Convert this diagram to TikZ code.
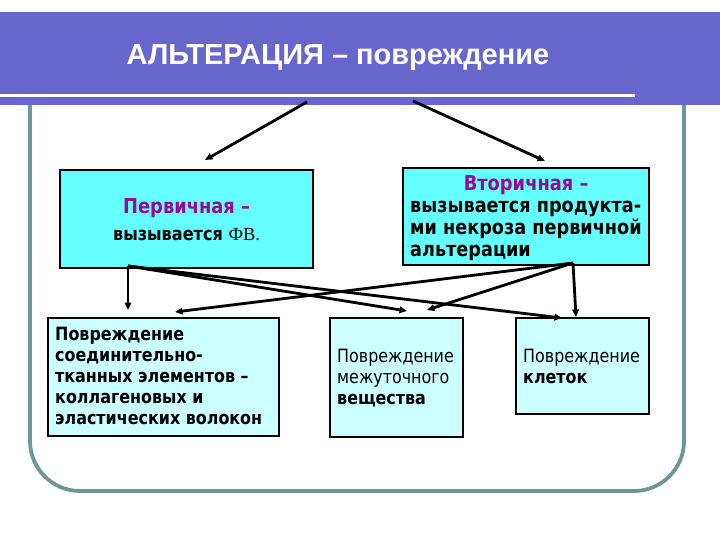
\documentclass[tikz,border=0pt]{standalone}
\usepackage{fontspec}
\setmainfont{DejaVu Sans}
\newfontfamily\boxfont[FakeStretch=0.87]{DejaVu Sans}
\newfontfamily\titlefont{Liberation Sans}
\newfontfamily\serfont{Liberation Serif}
\usetikzlibrary{arrows.meta,positioning}
\definecolor{bandblue}{RGB}{102,102,204}
\definecolor{framegray}{RGB}{110,150,150}
\definecolor{topcyan}{RGB}{102,255,255}
\definecolor{lowcyan}{RGB}{204,255,255}
\definecolor{headpurple}{RGB}{150,10,150}
\begin{document}
\begin{tikzpicture}[x=1pt, y=-1pt,
  altbox/.style = {draw=black, line width=2.2pt, fill=topcyan, anchor=north west, inner sep=0pt},
  dmgbox/.style = {altbox, fill=lowcyan},
  alttxt/.style = {inner sep=0pt, align=left, font=\boxfont\fontsize{18.3}{21}\selectfont},
  althead/.style = {alttxt, text=headpurple, font=\boxfont\fontsize{20.5}{22}\selectfont\bfseries},
  altarrow/.style = {-{Triangle[length=7.5pt, width=6.5pt]}, line width=2.8pt}
]
  \useasboundingbox (0,0) rectangle (720,540);
  % frame and header band
  \draw[framegray, line width=3.8pt, rounded corners=50pt]
    (30,100) -- (30,491) -- (684,491) -- (684,100);
  \fill[bandblue] (0,12) rectangle (720,105);
  \draw[white, line width=3pt] (0,96) -- (635,96);
  \node[text=white, font=\titlefont\bfseries\fontsize{29}{32}\selectfont] (title) at (338,58)
    {АЛЬТЕРАЦИЯ – повреждение};
  % upper boxes
  \node[altbox, minimum width=253pt, minimum height=98pt] (prim) at (59,169) {};
  \node[althead, below=29pt of prim.north] (primhead) {Первичная –};
  \node[alttxt, below=11pt of primhead, font=\boxfont\fontsize{18.5}{20}\selectfont\bfseries] (primtxt)
    {вызывается {\serfont\mdseries ФВ.}};
  \node[altbox, minimum width=246pt, minimum height=97pt] (sec) at (402,167) {};
  \node[althead, below=8pt of sec.north] (sechead) {Вторичная –};
  \node[alttxt, font=\boxfont\fontsize{20.3}{22}\selectfont\bfseries,
    below right=34pt and 8pt of sec.north west] (sectxt)
    {вызывается продукта-\\ми некроза первичной\\альтерации};
  % lower boxes
  \node[dmgbox, minimum width=231pt, minimum height=118pt] (conn) at (47,317) {};
  \node[alttxt, font=\boxfont\fontsize{18.3}{21}\selectfont\bfseries,
    below right=10pt and 8pt of conn.north west] (conntxt)
    {Повреждение\\соединительно-\\тканных элементов –\\коллагеновых и\\эластических волокон};
  \node[dmgbox, minimum width=133pt, minimum height=119pt] (inter) at (329,317) {};
  \node[alttxt, below right=32pt and 8pt of inter.north west] (intertxt)
    {Повреждение\\межуточного\\\textbf{вещества}};
  \node[dmgbox, minimum width=133pt, minimum height=96pt] (cell) at (515,317) {};
  \node[alttxt, below right=32pt and 8pt of cell.north west] (celltxt)
    {Повреждение\\\textbf{клеток}};
  % arrow ends
  \coordinate (hl) at (307,102);
  \coordinate (hr) at (413,101);
  \coordinate (primin) at (205,160);
  \coordinate (secin) at (545,161);
  \coordinate (primout) at (128,266);
  \coordinate (secout) at (573,263);
  \coordinate (connin) at (128,310);
  \coordinate (connin2) at (175,312);
  \coordinate (interin) at (407,311);
  \coordinate (interin2) at (427,310);
  \coordinate (cellin) at (562,318);
  \coordinate (cellin2) at (576,317);
  % arrows
  \draw[altarrow] (hl) -- (primin);
  \draw[altarrow] (hr) -- (secin);
  \draw[altarrow] (primout) -- (connin);
  \draw[altarrow] (primout) -- (interin);
  \draw[altarrow] (primout) -- (cellin);
  \draw[altarrow] (secout) -- (cellin2);
  \draw[altarrow] (secout) -- (connin2);
  \draw[altarrow] (secout) -- (interin2);
\end{tikzpicture}
\end{document}
